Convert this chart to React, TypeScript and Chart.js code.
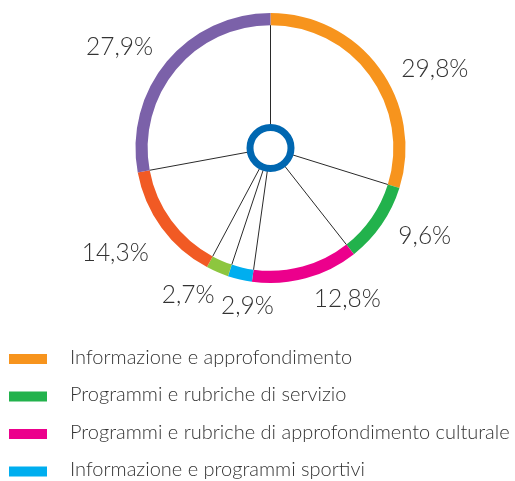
import React, { useEffect, useRef } from 'react';
import { Chart, registerables } from 'chart.js';

Chart.register(...registerables);

const categories = [
  'Informazione e approfondimento',
  'Programmi e rubriche di servizio',
  'Programmi e rubriche di approfondimento culturale',
  'Informazione e programmi sportivi',
  'Programmi per minori',
  'Intrattenimento',
  'Fiction e cinema',
];
const shares = [29.8, 9.6, 12.8, 2.9, 2.7, 14.3, 27.9];
const colors = ['#F7941D', '#22B24C', '#EC008C', '#00AEEF', '#8DC63F', '#F15A24', '#7B61A9'];

const fmt = (v: number) => v.toFixed(1).replace('.', ',') + '%';

// label placement: [angle nudge in degrees, distance from centre]
const labelLayout: [number, number][] = [
  [10.3, 183], [-5.2, 177], [-11.9, 169], [-4.8, 159], [6.2, 167.5], [2.3, 187], [-5.8, 182],
];

const FONT = 'Lato, "Open Sans", sans-serif';

const decorPlugin = {
  id: 'decor',
  afterDatasetsDraw(chart: any) {
    const ctx = chart.ctx as CanvasRenderingContext2D;
    const meta = chart.getDatasetMeta(0);
    const arcs = meta.data as any[];
    if (!arcs.length) return;
    const cx = arcs[0].x;
    const cy = arcs[0].y;
    const inner = arcs[0].innerRadius;
    ctx.save();
    // spokes
    ctx.strokeStyle = '#2a2a2a';
    ctx.lineWidth = 1;
    arcs.forEach((a) => {
      const ang = a.startAngle;
      ctx.beginPath();
      ctx.moveTo(cx, cy);
      ctx.lineTo(cx + Math.cos(ang) * inner, cy + Math.sin(ang) * inner);
      ctx.stroke();
    });
    // centre ring
    ctx.beginPath();
    ctx.arc(cx, cy, 20.5, 0, Math.PI * 2);
    ctx.fillStyle = '#ffffff';
    ctx.fill();
    ctx.lineWidth = 7;
    ctx.strokeStyle = '#0067B1';
    ctx.stroke();

    // percentage labels
    ctx.font = `300 24.5px ${FONT}`;
    ctx.fillStyle = '#333333';
    ctx.textAlign = 'center';
    ctx.textBaseline = 'middle';
    arcs.forEach((a, i) => {
      const mid = (a.startAngle + a.endAngle) / 2 + (labelLayout[i][0] * Math.PI) / 180;
      const r = labelLayout[i][1];
      ctx.fillText(fmt(shares[i]), cx + Math.cos(mid) * r, cy + Math.sin(mid) * r + 1);
    });

    // legend
    ctx.textAlign = 'left';
    ctx.textBaseline = 'alphabetic';
    ctx.font = `300 20px ${FONT}`;
    categories.forEach((c, i) => {
      const top = 354 + i * 37.5;
      ctx.fillStyle = colors[i];
      ctx.fillRect(9, top, 38, 10);
      ctx.fillStyle = '#333333';
      ctx.fillText(c, 70, top + 9.5);
    });
    ctx.restore();
  },
};

export default function App() {
  const ref = useRef<HTMLCanvasElement | null>(null);
  useEffect(() => {
    document.body.style.margin = '0';
    document.body.style.overflow = 'hidden';
    const canvas = ref.current!;
    const chart = new Chart(canvas, {
      type: 'doughnut',
      data: {
        labels: categories,
        datasets: [
          {
            data: shares,
            backgroundColor: colors,
            borderWidth: 0,
          },
        ],
      },
      options: {
        responsive: false,
        animation: false,
        cutout: '91%',
        layout: { padding: { top: 13, bottom: 198, left: 26, right: 0 } },
        plugins: {
          legend: { display: false },
          tooltip: { enabled: false },
        },
      },
      plugins: [decorPlugin],
    });
    return () => chart.destroy();
  }, []);
  return (
    <div style={{ width: 515, height: 481, background: '#fff' }}>
      <canvas ref={ref} width={515} height={481} style={{ display: 'block' }} />
    </div>
  );
}
